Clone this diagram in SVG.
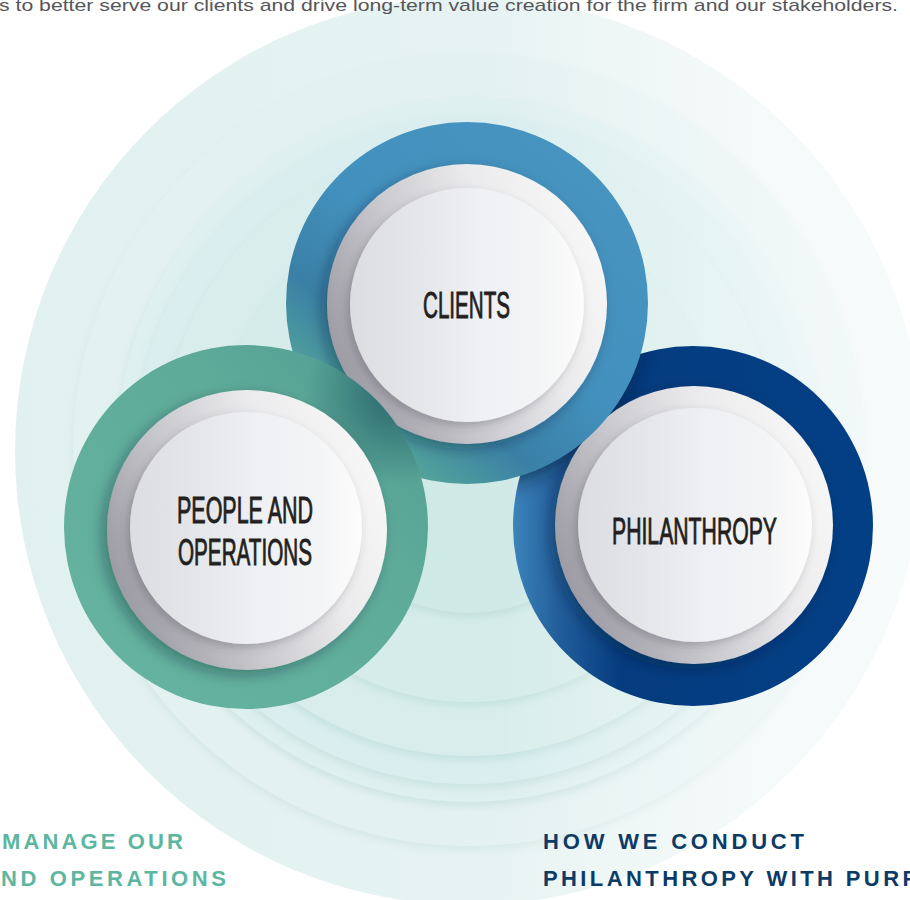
<svg xmlns="http://www.w3.org/2000/svg" width="910" height="900" viewBox="0 0 910 900">
<defs>
  <linearGradient id="bgGrad" x1="0" y1="0" x2="1" y2="0">
    <stop offset="0" stop-color="#e1f1ef"/>
    <stop offset="0.5" stop-color="#e6f3f2"/>
    <stop offset="1" stop-color="#f5f9f9"/>
  </linearGradient>
  <linearGradient id="fadeRight" x1="0" y1="0" x2="1" y2="0">
    <stop offset="0" stop-color="#ffffff" stop-opacity="0"/>
    <stop offset="0.55" stop-color="#ffffff" stop-opacity="0"/>
    <stop offset="1" stop-color="#f7fbfb" stop-opacity="0.75"/>
  </linearGradient>
  <linearGradient id="blueGrad" x1="0.85" y1="0.1" x2="0.2" y2="0.9">
    <stop offset="0" stop-color="#4794c1"/>
    <stop offset="0.5" stop-color="#4290bd"/>
    <stop offset="0.75" stop-color="#3a80a6"/>
    <stop offset="1" stop-color="#58ab98"/>
  </linearGradient>
  <linearGradient id="greenGrad" x1="1" y1="0" x2="0" y2="1">
    <stop offset="0" stop-color="#4f9a90"/>
    <stop offset="0.35" stop-color="#5eab9a"/>
    <stop offset="1" stop-color="#66b4a1"/>
  </linearGradient>
  <radialGradient id="greenDark" cx="0.5" cy="0.5" r="0.5">
    <stop offset="0" stop-color="#1d5662" stop-opacity="0.75"/>
    <stop offset="1" stop-color="#1d5662" stop-opacity="0"/>
  </radialGradient>
  <linearGradient id="navyGrad" x1="0" y1="0" x2="1" y2="0">
    <stop offset="0" stop-color="#3c84ba"/>
    <stop offset="0.12" stop-color="#235f9c"/>
    <stop offset="0.3" stop-color="#053c7f"/>
    <stop offset="1" stop-color="#033f86"/>
  </linearGradient>
  <linearGradient id="rimGrad" x1="0.05" y1="0.7" x2="0.95" y2="0.3">
    <stop offset="0" stop-color="#9e9da6"/>
    <stop offset="0.35" stop-color="#c9c8cd"/>
    <stop offset="0.7" stop-color="#ebebed"/>
    <stop offset="1" stop-color="#f6f6f6"/>
  </linearGradient>
  <linearGradient id="faceGrad" x1="0" y1="0" x2="1" y2="0">
    <stop offset="0" stop-color="#dcdde2"/>
    <stop offset="0.35" stop-color="#e6e8ec"/>
    <stop offset="0.55" stop-color="#eef0f4"/>
    <stop offset="0.8" stop-color="#f3f4f5"/>
    <stop offset="1" stop-color="#fcfcfc"/>
  </linearGradient>
  <filter id="bgShadow" x="-10%" y="-10%" width="120%" height="125%">
    <feDropShadow dx="0" dy="4" stdDeviation="4" flood-color="#86b9b4" flood-opacity="0.25"/>
  </filter>
  <filter id="rimShadow" x="-20%" y="-20%" width="140%" height="140%">
    <feDropShadow dx="-5" dy="5" stdDeviation="7" flood-color="#0b1e2e" flood-opacity="0.35"/>
  </filter>
  <filter id="faceShadow" x="-20%" y="-20%" width="140%" height="140%">
    <feDropShadow dx="-3" dy="4" stdDeviation="4" flood-color="#4a4a52" flood-opacity="0.3"/>
  </filter>
  <filter id="blur10" x="-30%" y="-30%" width="160%" height="160%">
    <feGaussianBlur stdDeviation="10"/>
  </filter>
  <clipPath id="clipNavy"><circle cx="693" cy="526" r="180"/></clipPath>
  <clipPath id="clipGreen"><circle cx="246" cy="527" r="182"/></clipPath>
  <clipPath id="clipBig"><circle cx="469" cy="451" r="454"/></clipPath>
</defs>
<style>
  .label { font-family: "Liberation Sans", Arial, sans-serif; font-weight: normal; font-size: 36px; fill: #231f20; stroke: #231f20; stroke-width: 0.9; }
  .intro { font-family: "Liberation Sans", Arial, sans-serif; font-size: 17px; fill: #555659; }
  .capT { font-family: "Liberation Sans", Arial, sans-serif; font-weight: bold; font-size: 22px; fill: #5cb6a0; }
  .capN { font-family: "Liberation Sans", Arial, sans-serif; font-weight: bold; font-size: 22px; fill: #0d3b66; }
  .rim { fill: url(#rimGrad); filter: url(#rimShadow); }
  .face { fill: url(#faceGrad); filter: url(#faceShadow); }
</style>
<rect width="910" height="900" fill="#ffffff"/>
<g id="background">
  <circle cx="469" cy="451" r="454" fill="url(#bgGrad)"/>
  <circle cx="469" cy="450" r="396" fill="#e3f2f1" filter="url(#bgShadow)" opacity="0.7"/>
  <circle cx="469" cy="450" r="352" fill="#dff0f0" filter="url(#bgShadow)"/>
  <circle cx="469" cy="450" r="334" fill="#daeeef" filter="url(#bgShadow)"/>
  <circle cx="469" cy="450" r="306" fill="#d9eeec" filter="url(#bgShadow)"/>
  <circle cx="469" cy="450" r="252" fill="#d5ecea" filter="url(#bgShadow)"/>
  <circle cx="469" cy="450" r="163" fill="#cfe9e6" filter="url(#bgShadow)"/>
  <rect x="0" y="0" width="910" height="900" fill="url(#fadeRight)" clip-path="url(#clipBig)"/>
</g>
<g id="intro-text">
  <text class="intro" x="-1" y="11" textLength="899" lengthAdjust="spacingAndGlyphs">s to better serve our clients and drive long-term value creation for the firm and our stakeholders.</text>
</g>
<g id="connectors"></g>
<g id="node-philanthropy">
  <circle cx="693" cy="526" r="180" fill="url(#navyGrad)"/>
  <circle cx="463" cy="309" r="181" fill="#04152b" opacity="0.6" filter="url(#blur10)" clip-path="url(#clipNavy)"/>
  <circle class="rim" cx="694" cy="525" r="139"/>
  <circle class="face" cx="695" cy="525" r="117"/>
  <text class="label" x="694.5" y="544" text-anchor="middle" textLength="165" lengthAdjust="spacingAndGlyphs">PHILANTHROPY</text>
</g>
<g id="node-clients">
  <circle cx="467" cy="303" r="181" fill="url(#blueGrad)"/>
  <circle class="rim" cx="467" cy="304" r="140"/>
  <circle class="face" cx="467" cy="305" r="117"/>
  <text class="label" x="466.5" y="318" text-anchor="middle" textLength="87" lengthAdjust="spacingAndGlyphs">CLIENTS</text>
</g>
<g id="node-people">
  <circle cx="246" cy="527" r="182" fill="url(#greenGrad)"/>
  <circle cx="395" cy="395" r="90" fill="url(#greenDark)" clip-path="url(#clipGreen)"/>
  <circle class="rim" cx="247" cy="530" r="140"/>
  <circle class="face" cx="246" cy="528" r="116"/>
  <text class="label" x="245" y="523" text-anchor="middle" textLength="136" lengthAdjust="spacingAndGlyphs">PEOPLE AND</text>
  <text class="label" x="245" y="565" text-anchor="middle" textLength="134" lengthAdjust="spacingAndGlyphs">OPERATIONS</text>
</g>
<g id="captions">
  <text class="capT" x="2" y="849" textLength="181" lengthAdjust="spacing">MANAGE OUR</text>
  <text class="capT" x="1" y="886" textLength="225" lengthAdjust="spacing">ND OPERATIONS</text>
  <text class="capN" x="543" y="849" textLength="261" lengthAdjust="spacing">HOW WE CONDUCT</text>
  <text class="capN" x="543" y="886" letter-spacing="3.4">PHILANTHROPY WITH PURP</text>
</g>
</svg>
